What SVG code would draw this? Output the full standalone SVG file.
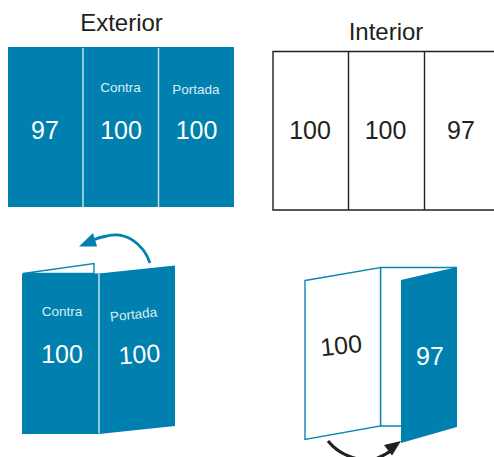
<svg xmlns="http://www.w3.org/2000/svg" width="494" height="457" viewBox="0 0 494 457">
<style>
text{font-family:"Liberation Sans",Arial,sans-serif;text-anchor:middle}
.n{font-size:25px}.s{font-size:13.500px;fill:#dcedf4}.t{font-size:24px;fill:#231f20}
.w{fill:#fff}.k{fill:#231f20}
.b{fill:#0080ae}.o{fill:#fff;stroke:#0a86b3;stroke-width:1.400}
.f{stroke:#c3e0ea;stroke-width:1.500;fill:none}
.l{stroke:#231f20;stroke-width:1.400;fill:none}
</style>
<g id="exterior">
<text class="t" x="121.500" y="31">Exterior</text>
<rect class="b" x="8" y="47" width="226" height="160"/>
<path class="f" d="M83 48V207M158.500 48V207"/>
<text class="n w" x="45" y="138.500">97</text>
<text class="s" x="120.500" y="92">Contra</text>
<text class="n w" x="121" y="139">100</text>
<text class="s" x="196" y="94">Portada</text>
<text class="n w" x="196.500" y="139">100</text>
</g>
<g id="interior">
<text class="t" x="386" y="40">Interior</text>
<path class="l" d="M494 51.500H273V210H494M348.500 51.500V210M424.500 51.500V210"/>
<text class="n k" x="310" y="139">100</text>
<text class="n k" x="385.500" y="139">100</text>
<text class="n k" x="461" y="139">97</text>
</g>
<g id="folded-left">
<path class="o" d="M23 273.500L94 263.500V273.500Z"/>
<path class="b" d="M22 273.500H99L175 265.500V426L99 434H22Z"/>
<path class="f" d="M99 274V433.500"/>
<text class="s" x="62" y="316">Contra</text>
<text class="n w" x="62" y="363">100</text>
<text class="s" transform="translate(134 319) rotate(-6)" x="0" y="0">Portada</text>
<text class="n w" transform="translate(140 363) rotate(-4)" x="0" y="0">100</text>
</g>
<g id="folded-right">
<path class="o" d="M380.500 267.500H456V426H380.500Z"/>
<path class="o" d="M305 280.500L380.500 267.500V426L305 439.500Z"/>
<path class="b" d="M401 280L457 267V427L401 443Z"/>
<text class="n k" transform="translate(342 354) rotate(-6)" x="0" y="0">100</text>
<text class="n w" x="430" y="365">97</text>
</g>
<g id="connectors">
<path d="M150 263C143 243 125 231 107 236Q100 237 93 240" fill="none" stroke="#0080ae" stroke-width="2.800"/>
<path class="b" d="M79 246.500L93 233L97 246.500Z"/>
<path d="M328 441C340 456 360 462 375 459Q384 456 392 450" fill="none" stroke="#231f20" stroke-width="3"/>
<path class="k" d="M401 441L384 445L392 455.500Z"/>
</g>
</svg>
